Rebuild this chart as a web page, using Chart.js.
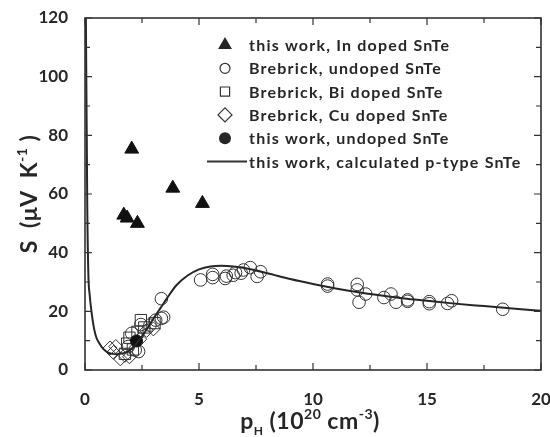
<!DOCTYPE html>
<html>
<head>
<meta charset="utf-8">
<script src="https://cdn.jsdelivr.net/npm/chart.js@4.4.1/dist/chart.umd.min.js"></script>
<style>
  html, body { margin: 0; padding: 0; background: #fff; }
  #wrap { width: 550px; height: 437px; }
</style>
</head>
<body>
<div id="wrap"><canvas id="seebeck" width="550" height="437"></canvas></div>
<script>
// axis ticks
const xTicks = [0, 5, 10, 15, 20];
const xMinor = [2.5, 7.5, 12.5, 17.5];
const yTicks = [0, 20, 40, 60, 80, 100, 120];
const yMinor = [10, 30, 50, 70, 90, 110];

// this work, In doped SnTe
const inDopedX = [1.7, 1.85, 2.05, 2.3, 3.85, 5.15];
const inDopedY = [52.8, 51.8, 75.3, 50.0, 62.0, 56.8];

// Brebrick, undoped SnTe
const undopedX = [1.9, 2.05, 2.2, 2.35, 2.45, 2.85, 3.1, 3.35, 3.45, 3.35,
  5.07, 5.6, 5.6, 6.15, 6.2, 6.5, 6.6, 6.85, 6.95, 7.25, 7.55, 7.7,
  10.64, 10.64, 11.94, 11.94, 12.02, 12.31, 13.11, 13.42, 13.64, 14.15, 14.15,
  15.1, 15.1, 15.9, 16.08, 18.32];
const undopedY = [8.0, 12.5, 6.8, 6.3, 15.5, 15.3, 17.0, 17.6, 18.0, 24.3,
  30.7, 32.6, 31.5, 31.2, 32.0, 32.3, 33.2, 33.0, 34.1, 34.9, 31.9, 33.5,
  29.3, 28.6, 29.2, 27.3, 23.1, 25.9, 24.7, 25.9, 23.1, 23.9, 23.4,
  23.3, 22.6, 22.7, 23.6, 20.7];

// Brebrick, Bi doped SnTe
const biDopedX = [1.75, 1.85, 1.95, 2.1, 2.3, 2.45, 2.6, 3.05];
const biDopedY = [5.5, 9.0, 11.0, 7.0, 13.0, 17.0, 14.5, 16.0];

// Brebrick, Cu doped SnTe
const cuDopedX = [1.1, 1.25, 1.35, 1.55, 1.75, 1.95, 2.4, 2.7, 3.0];
const cuDopedY = [7.5, 6.0, 8.0, 3.8, 5.0, 4.5, 10.5, 13.5, 14.0];

// this work, undoped SnTe
const thisUndopedX = [2.26];
const thisUndopedY = [9.9];

// this work, calculated p-type SnTe
const calcX = [0.03, 0.1, 0.15, 0.2, 0.3, 0.4, 0.5, 0.6, 0.8, 1.0, 1.2, 1.4, 1.6, 1.8,
  2.0, 2.2, 2.5, 2.8, 3.0, 3.3, 3.6, 4.0, 4.5, 5.0, 5.5, 6.0, 6.5, 7.0, 8.0, 9.0,
  10, 11, 12, 13, 14, 15, 16, 17, 18, 19, 20];
const calcY = [130, 55, 32, 26, 19, 14, 11, 9.5, 7.2, 6.0, 5.5, 5.4, 5.6, 6.0,
  7.0, 8.5, 11.5, 15, 17.5, 21, 24.5, 28.8, 32.2, 34.3, 35.3, 35.5, 35.3, 34.8, 33, 31,
  29.3, 27.8, 26.5, 25.4, 24.4, 23.6, 22.8, 22.1, 21.5, 20.8, 20.2];

const pts = (xs, ys) => xs.map((x, i) => ({ x: x, y: ys[i] }));
const ink = '#262626';
const fontFam = 'Lato, "Open Sans", sans-serif';

function drawRich(ctx, parts, x, y) {
  let total = 0;
  parts.forEach(p => {
    ctx.font = 'bold ' + p.size + 'px ' + fontFam;
    p.w = ctx.measureText(p.t).width;
    total += p.w;
  });
  let cx = x - total / 2;
  parts.forEach(p => {
    ctx.font = 'bold ' + p.size + 'px ' + fontFam;
    ctx.fillText(p.t, cx, y + (p.dy || 0));
    cx += p.w;
  });
}

function marker(ctx, style, x, y, r, filled) {
  ctx.beginPath();
  if (style === 'triangle') {
    for (let k = 0; k < 3; k++) {
      const a = k * 2 * Math.PI / 3;
      ctx.lineTo(x + Math.sin(a) * r, y - Math.cos(a) * r);
    }
    ctx.closePath();
  } else if (style === 'rect') {
    const s = r * Math.SQRT1_2;
    ctx.rect(x - s, y - s, 2 * s, 2 * s);
  } else if (style === 'rectRot') {
    ctx.moveTo(x - r, y); ctx.lineTo(x, y - r); ctx.lineTo(x + r, y); ctx.lineTo(x, y + r);
    ctx.closePath();
  } else {
    ctx.arc(x, y, r, 0, Math.PI * 2);
  }
  if (filled) ctx.fill(); else ctx.stroke();
}

const decor = {
  id: 'decor',
  afterDraw(chart) {
    const ctx = chart.ctx;
    const a = chart.chartArea;
    const xs = chart.scales.x, ys = chart.scales.y;
    ctx.save();
    ctx.strokeStyle = '#333';
    ctx.lineWidth = 1.6;
    ctx.strokeRect(a.left, a.top, a.right - a.left, a.bottom - a.top);
    ctx.lineWidth = 1.2;
    const tick = (vals, len) => {
      vals.forEach(v => {
        const px = xs.getPixelForValue(v);
        ctx.beginPath();
        ctx.moveTo(px, a.bottom); ctx.lineTo(px, a.bottom - len);
        ctx.moveTo(px, a.top); ctx.lineTo(px, a.top + len);
        ctx.stroke();
      });
    };
    const tickY = (vals, len) => {
      vals.forEach(v => {
        const py = ys.getPixelForValue(v);
        ctx.beginPath();
        ctx.moveTo(a.left, py); ctx.lineTo(a.left + len, py);
        ctx.moveTo(a.right, py); ctx.lineTo(a.right - len, py);
        ctx.stroke();
      });
    };
    tick(xTicks, 7); tick(xMinor, 5);
    tickY(yTicks, 7); tickY(yMinor, 5);

    // axis titles
    ctx.fillStyle = ink;
    ctx.textBaseline = 'alphabetic';
    ctx.textAlign = 'left';
    ctx.letterSpacing = '0.5px';
    drawRich(ctx, [
      { t: 'p', size: 23 }, { t: 'H', size: 12, dy: 6 }, { t: ' (10', size: 23 },
      { t: '20', size: 14, dy: -10 }, { t: ' cm', size: 23 }, { t: '-3', size: 14, dy: -10 },
      { t: ')', size: 23 }
    ], 310, 429);
    ctx.save();
    ctx.translate(37, 194);
    ctx.rotate(-Math.PI / 2);
    drawRich(ctx, [
      { t: 'S  (μV  K', size: 23 }, { t: '-1', size: 14, dy: -10 }, { t: ' )', size: 23 }
    ], 0, 0);
    ctx.restore();

    // legend
    ctx.font = 'bold 16px ' + fontFam;
    ctx.letterSpacing = '1.2px';
    ctx.textBaseline = 'middle';
    chart.data.datasets.forEach(ds => {
      const ly = 45 + ds.legendRow * 23.3;
      ctx.fillStyle = ink;
      ctx.strokeStyle = '#333';
      ctx.lineWidth = 1.2;
      if (ds.showLine) {
        ctx.lineWidth = 2;
        ctx.beginPath(); ctx.moveTo(207, ly); ctx.lineTo(247, ly); ctx.stroke();
      } else {
        const filled = ds.backgroundColor !== 'transparent';
        marker(ctx, ds.pointStyle, 225, ly, ds.legendSize, filled);
      }
      ctx.fillText(ds.label, 249, ly + 1);
    });
    ctx.restore();
  }
};

new Chart(document.getElementById('seebeck'), {
  type: 'scatter',
  data: {
    datasets: [
      {
        label: 'this work, calculated p-type SnTe',
        data: pts(calcX, calcY),
        showLine: true, borderColor: ink, borderWidth: 2, pointRadius: 0,
        cubicInterpolationMode: 'monotone', order: 0, legendRow: 5
      },
      {
        label: 'this work, In doped SnTe',
        data: pts(inDopedX, inDopedY),
        pointStyle: 'triangle', pointRadius: 8, backgroundColor: '#111', borderColor: '#111',
        order: 1, legendRow: 0, legendSize: 8
      },
      {
        label: 'Brebrick, undoped SnTe',
        data: pts(undopedX, undopedY),
        pointStyle: 'circle', pointRadius: 6.3, backgroundColor: 'transparent', borderColor: '#333',
        borderWidth: 1, order: 2, legendRow: 1, legendSize: 5
      },
      {
        label: 'Brebrick, Bi doped SnTe',
        data: pts(biDopedX, biDopedY),
        pointStyle: 'rect', pointRadius: 8, backgroundColor: 'transparent', borderColor: '#333',
        borderWidth: 1, order: 3, legendRow: 2, legendSize: 6.5
      },
      {
        label: 'Brebrick, Cu doped SnTe',
        data: pts(cuDopedX, cuDopedY),
        pointStyle: 'rectRot', pointRadius: 7, backgroundColor: 'transparent', borderColor: '#333',
        borderWidth: 1, order: 4, legendRow: 3, legendSize: 7
      },
      {
        label: 'this work, undoped SnTe',
        data: pts(thisUndopedX, thisUndopedY),
        pointStyle: 'circle', pointRadius: 6, backgroundColor: '#111', borderColor: '#111',
        order: 1, legendRow: 4, legendSize: 6
      }
    ]
  },
  options: {
    responsive: false,
    animation: false,
    layout: { padding: { left: 0, top: 18, right: 9, bottom: 0 } },
    plugins: { legend: { display: false }, tooltip: { enabled: false } },
    scales: {
      x: {
        type: 'linear', min: 0, max: 20,
        afterBuildTicks: s => { s.ticks = xTicks.map(v => ({ value: v })); },
        afterFit: s => { s.height = 67; s.paddingLeft = 0; s.paddingRight = 0; },
        grid: { display: false }, border: { display: false },
        ticks: { padding: 11, color: ink, font: { family: fontFam, size: 17, weight: 'bold' } }
      },
      y: {
        type: 'linear', min: 0, max: 120,
        afterBuildTicks: s => { s.ticks = yTicks.map(v => ({ value: v })); },
        afterFit: s => { s.width = 85; s.paddingTop = 0; s.paddingBottom = 0; },
        grid: { display: false }, border: { display: false },
        ticks: { padding: 9, color: ink, font: { family: fontFam, size: 17, weight: 'bold' } }
      }
    }
  },
  plugins: [decor]
});
</script>
</body>
</html>
